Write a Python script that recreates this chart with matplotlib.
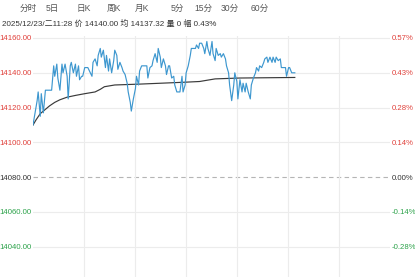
import matplotlib
matplotlib.use("Agg")
import matplotlib.pyplot as plt
import numpy as np

plt.rcParams["font.family"] = ["Liberation Sans", "Noto Sans CJK SC", "DejaVu Sans"]

# intraday data (minutes since session open, price)
minutes = [0, 4, 5, 7, 8, 10, 12, 14, 18, 20, 21, 23, 24, 26, 28, 29, 31, 33, 34, 36,
           37, 39, 41, 42, 44, 45, 47, 48, 50, 53, 57, 58, 60, 62, 63, 65, 66, 68, 70, 71,
           73, 74, 76, 78, 79, 81, 82, 84, 86, 87, 89, 91, 92, 94, 95, 97, 99, 100, 102, 103,
           105, 108, 110, 111, 113, 115, 116, 118, 120, 121, 123, 124, 126, 128, 129, 131, 132, 134, 136, 137,
           139, 140, 142, 144, 145, 147, 148, 150, 152, 153, 157, 158, 160, 161, 163, 165, 166, 168, 169, 171,
           173, 174, 176, 177, 179, 181, 182, 184, 186, 187, 189, 190, 192, 194, 195, 197, 198, 200, 202, 203,
           205, 206, 208, 210, 211, 213, 215, 216, 218, 219, 221, 223, 224, 226, 227, 229, 231, 232, 234, 235,
           237, 239, 240, 244, 245, 247, 248, 250, 253]
price = [14110, 14124, 14129, 14115, 14128, 14117, 14130, 14130, 14130, 14144, 14138, 14145, 14137, 14130, 14145, 14140, 14145, 14138, 14125, 14144,
         14146, 14140, 14145, 14138, 14144, 14136, 14138, 14138, 14143, 14143, 14138, 14146, 14148, 14144, 14150, 14154, 14149, 14153, 14143, 14150,
         14141, 14148, 14140, 14147, 14153, 14150, 14142, 14146, 14143, 14141, 14139, 14134, 14129, 14123, 14118, 14125, 14131, 14138, 14133, 14141,
         14144, 14144, 14144, 14137, 14143, 14144, 14147, 14151, 14146, 14154, 14149, 14143, 14148, 14144, 14139, 14144, 14144, 14137, 14138, 14133,
         14129, 14129, 14129, 14138, 14129, 14133, 14140, 14144, 14150, 14154, 14154, 14156, 14154, 14157, 14157, 14154, 14151, 14158, 14154, 14150,
         14158, 14151, 14147, 14154, 14150, 14151, 14149, 14151, 14148, 14144, 14140, 14133, 14124, 14133, 14140, 14135, 14125, 14136, 14129, 14134,
         14129, 14134, 14129, 14125, 14133, 14137, 14140, 14143, 14141, 14144, 14143, 14146, 14148, 14149, 14146, 14149, 14146, 14149, 14146, 14149,
         14147, 14148, 14143, 14143, 14138, 14143, 14143, 14140, 14140]

avg_minutes = [0, 3, 7, 12, 16, 21, 26, 33, 41, 50, 60, 65, 69, 79, 103, 123, 147, 161, 176, 200, 253]
avg_price = [14110, 14113, 14116.5, 14119, 14121, 14123, 14124.5, 14126, 14127, 14128, 14129, 14130.5,
             14132, 14133, 14133.5, 14134, 14134.6, 14135, 14136.5, 14137, 14137.32]

base_price = 14080
levels = [14160, 14140, 14120, 14100, 14080, 14060, 14040, 14020]
session_minutes = 345

tabs = ["分时", "5日", "日K", "周K", "月K", "5分", "15分", "30分", "60分"]
tab_x = [28, 52, 84, 114, 142, 177, 203, 230, 260]
info_text = "2025/12/23/二11:28 价 14140.00 均 14137.32 量 0 幅 0.43%"

RED = "#e0403a"
GREEN = "#2ca24a"
BASE = "#333333"

W, H = 415, 277
fig = plt.figure(figsize=(W / 100, H / 100), dpi=100)
fig.patch.set_facecolor("white")

top_px, bot_px = 36, 290
ax = fig.add_axes([33 / W, 1 - bot_px / H, (390 - 33) / W, (bot_px - top_px) / H])
units_per_px = 20 / 34.8
ax.set_ylim(14160 - (bot_px - 38) * units_per_px, 14160 + (38 - top_px) * units_per_px)
ax.set_xlim(0, session_minutes)
for s in ax.spines.values():
    s.set_visible(False)

for lv in levels:
    if lv == base_price:
        ax.axhline(lv, color="#b5b5b5", lw=0.8, ls=(0, (4, 3)), zorder=1)
    else:
        ax.axhline(lv, color="#ececec", lw=0.8, zorder=1)
for xv in np.linspace(0, session_minutes, 8)[1:-1]:
    ax.axvline(xv, color="#ececec", lw=0.8, zorder=1)

ax.plot(minutes, price, color="#3d97cf", lw=0.85, zorder=3)
ax.plot(avg_minutes, avg_price, color="#3a3a3a", lw=0.85, zorder=2)

colors = [RED if lv > base_price else (BASE if lv == base_price else GREEN) for lv in levels]
ax.set_xticks([])
ax.set_yticks(levels)
ax.set_yticklabels([f"{lv:.2f}" for lv in levels], fontsize=5.6)
for lab, c in zip(ax.get_yticklabels(), colors):
    lab.set_color(c)
ax.tick_params(axis="y", length=0, pad=1)

ax2 = ax.twinx()
ax2.set_ylim(ax.get_ylim())
for s in ax2.spines.values():
    s.set_visible(False)
ax2.set_yticks(levels)
ax2.set_yticklabels([f"{(lv - base_price) / base_price * 100:.2f}%" for lv in levels], fontsize=5.6)
for lab, c in zip(ax2.get_yticklabels(), colors):
    lab.set_color(c)
ax2.tick_params(axis="y", length=0, pad=1)

for t, x in zip(tabs, tab_x):
    fig.text(x / W, 1 - 8 / H, t, ha="center", va="center", fontsize=6.2, color="#555555")
fig.text(2 / W, 1 - 24 / H, info_text, ha="left", va="center", fontsize=5.8, color="#333333")

fig.savefig("out.png", dpi=100)
